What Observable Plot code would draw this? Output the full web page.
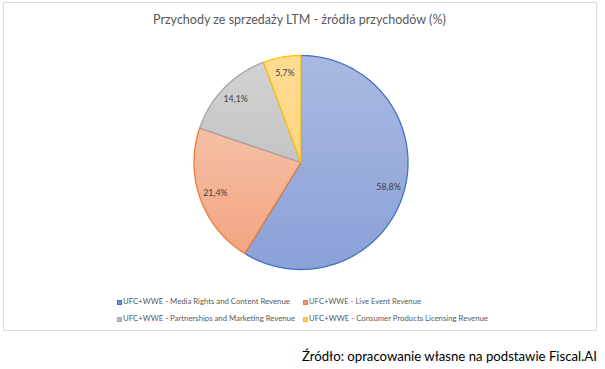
<!DOCTYPE html>
<html>
<head>
<meta charset="utf-8">
<script src="https://cdn.jsdelivr.net/npm/d3@7"></script>
<script src="https://cdn.jsdelivr.net/npm/@observablehq/plot@0.6"></script>
<style>
  html, body { margin: 0; padding: 0; background: #fff; }
  #wrap { position: relative; width: 605px; height: 369px; overflow: hidden; font-family: Lato, "Liberation Sans", Arial, sans-serif; }
  #frame { position: absolute; left: 3px; top: 2px; width: 594px; height: 329px; border: 1.5px solid #dcdcdc; box-sizing: border-box; }
  .txt { position: absolute; white-space: nowrap; line-height: 1; }
  #title { color: #595959; }
  #chart { position: absolute; left: 0; top: 37px; }
  .leg { color: #595959; }
  .sw { position: absolute; width: 5px; height: 5px; box-sizing: border-box; border: 1px solid; }
  #source { color: #000; }
</style>
</head>
<body>
<div id="wrap">
  <div id="frame"></div>
  <div id="chart"></div>
  <div id="legend"></div>
</div>
<script>
const titleText = "Przychody ze sprzedaży LTM - źródła przychodów (%)";
const sourceText = "Źródło: opracowanie własne na podstawie Fiscal.AI";
const categories = [
  "UFC+WWE - Media Rights and Content Revenue",
  "UFC+WWE - Live Event Revenue",
  "UFC+WWE - Partnerships and Marketing Revenue",
  "UFC+WWE - Consumer Products Licensing Revenue"
];
const values = [58.8, 21.4, 14.1, 5.7];
const strokeColors = ["#4472C4", "#ED7D31", "#A5A5A5", "#FFC000"];
const gradTop = ["#A9B9E1", "#F6BFA6", "#D2D2D2", "#FFDC94"];
const gradBottom = ["#8AA1D8", "#F2A581", "#C4C4C4", "#FFD583"];
const swatchColors = ["#6F8FD0", "#F19A70", "#BDBDBD", "#FFCF6A"];
// layout: [swatch x, text x, text right edge, center y]
const legendPos = [[117, 123, 290, 302.5], [303, 309, 421, 302.5], [117, 123, 295, 319.5], [303, 309, 488, 319.5]];

const wrap = document.getElementById("wrap");
function placeText(str, cls, left, right, cyText, maxSize) {
  const d = document.createElement("div");
  d.className = "txt " + cls;
  d.textContent = str;
  d.style.fontSize = maxSize + "px";
  d.style.left = left + "px";
  wrap.appendChild(d);
  const w = d.getBoundingClientRect().width;
  const fs = maxSize * (right - left) / w;
  d.style.fontSize = fs.toFixed(2) + "px";
  d.style.top = (cyText - fs * 0.55) + "px";
  return d;
}

// title & source
placeText(titleText, "", 153, 446, 21, 14).id = "title";
placeText(sourceText, "", 302, 597, 357, 14).id = "source";

// geometry (scale units: pie radius = 1)
const R = 107, W = 605, H = 250, cx = 300.5, cy = 125;
const total = d3.sum(values);
const slices = [];
let acc = 0;
values.forEach((v, i) => {
  const a0 = acc / total * 2 * Math.PI;
  acc += v;
  const a1 = acc / total * 2 * Math.PI;
  const pts = [{x: 0, y: 0}];
  const n = Math.max(4, Math.ceil((a1 - a0) / (Math.PI / 360)));
  for (let k = 0; k <= n; k++) {
    const a = a0 + (a1 - a0) * k / n;
    pts.push({x: Math.sin(a), y: Math.cos(a)});
  }
  pts.push({x: 0, y: 0});
  const am = (a0 + a1) / 2;
  slices.push({i, pts, lx: 0.85 * Math.sin(am), ly: 0.85 * Math.cos(am),
    label: d3.format(".1f")(v).replace(".", ",") + "%"});
});

const marks = slices.map(s => Plot.line(s.pts, {
  x: "x", y: "y", fill: `url(#pg${s.i})`, stroke: strokeColors[s.i],
  strokeWidth: 1.3, strokeLinejoin: "round", curve: "linear"
}));
marks.push(Plot.text(slices, {
  x: "lx", y: "ly", text: "label", fill: "#404040", fontSize: 8.8,
  fontFamily: "Lato, Liberation Sans, Arial, sans-serif"
}));

const svg = Plot.plot({
  width: W, height: H,
  margin: 0,
  x: {domain: [-cx / R, (W - cx) / R], axis: null},
  y: {domain: [-cy / R, (H - cy) / R], axis: null},
  marks
});

const defs = d3.select(svg).insert("defs", ":first-child");
values.forEach((v, i) => {
  const g = defs.append("linearGradient").attr("id", `pg${i}`)
    .attr("x1", 0).attr("y1", 0).attr("x2", 0).attr("y2", 1);
  g.append("stop").attr("offset", "0%").attr("stop-color", gradTop[i]);
  g.append("stop").attr("offset", "100%").attr("stop-color", gradBottom[i]);
});
document.getElementById("chart").appendChild(svg);

// legend
const legend = document.getElementById("legend");
categories.forEach((c, i) => {
  const [sx, tx, tr, ly] = legendPos[i];
  const sw = document.createElement("span");
  sw.className = "sw";
  sw.style.left = sx + "px";
  sw.style.top = (ly - 2.5) + "px";
  sw.style.background = swatchColors[i];
  sw.style.borderColor = strokeColors[i];
  wrap.appendChild(sw);
  placeText(c, "leg", tx, tr, ly, 9);
});
</script>
</body>
</html>
